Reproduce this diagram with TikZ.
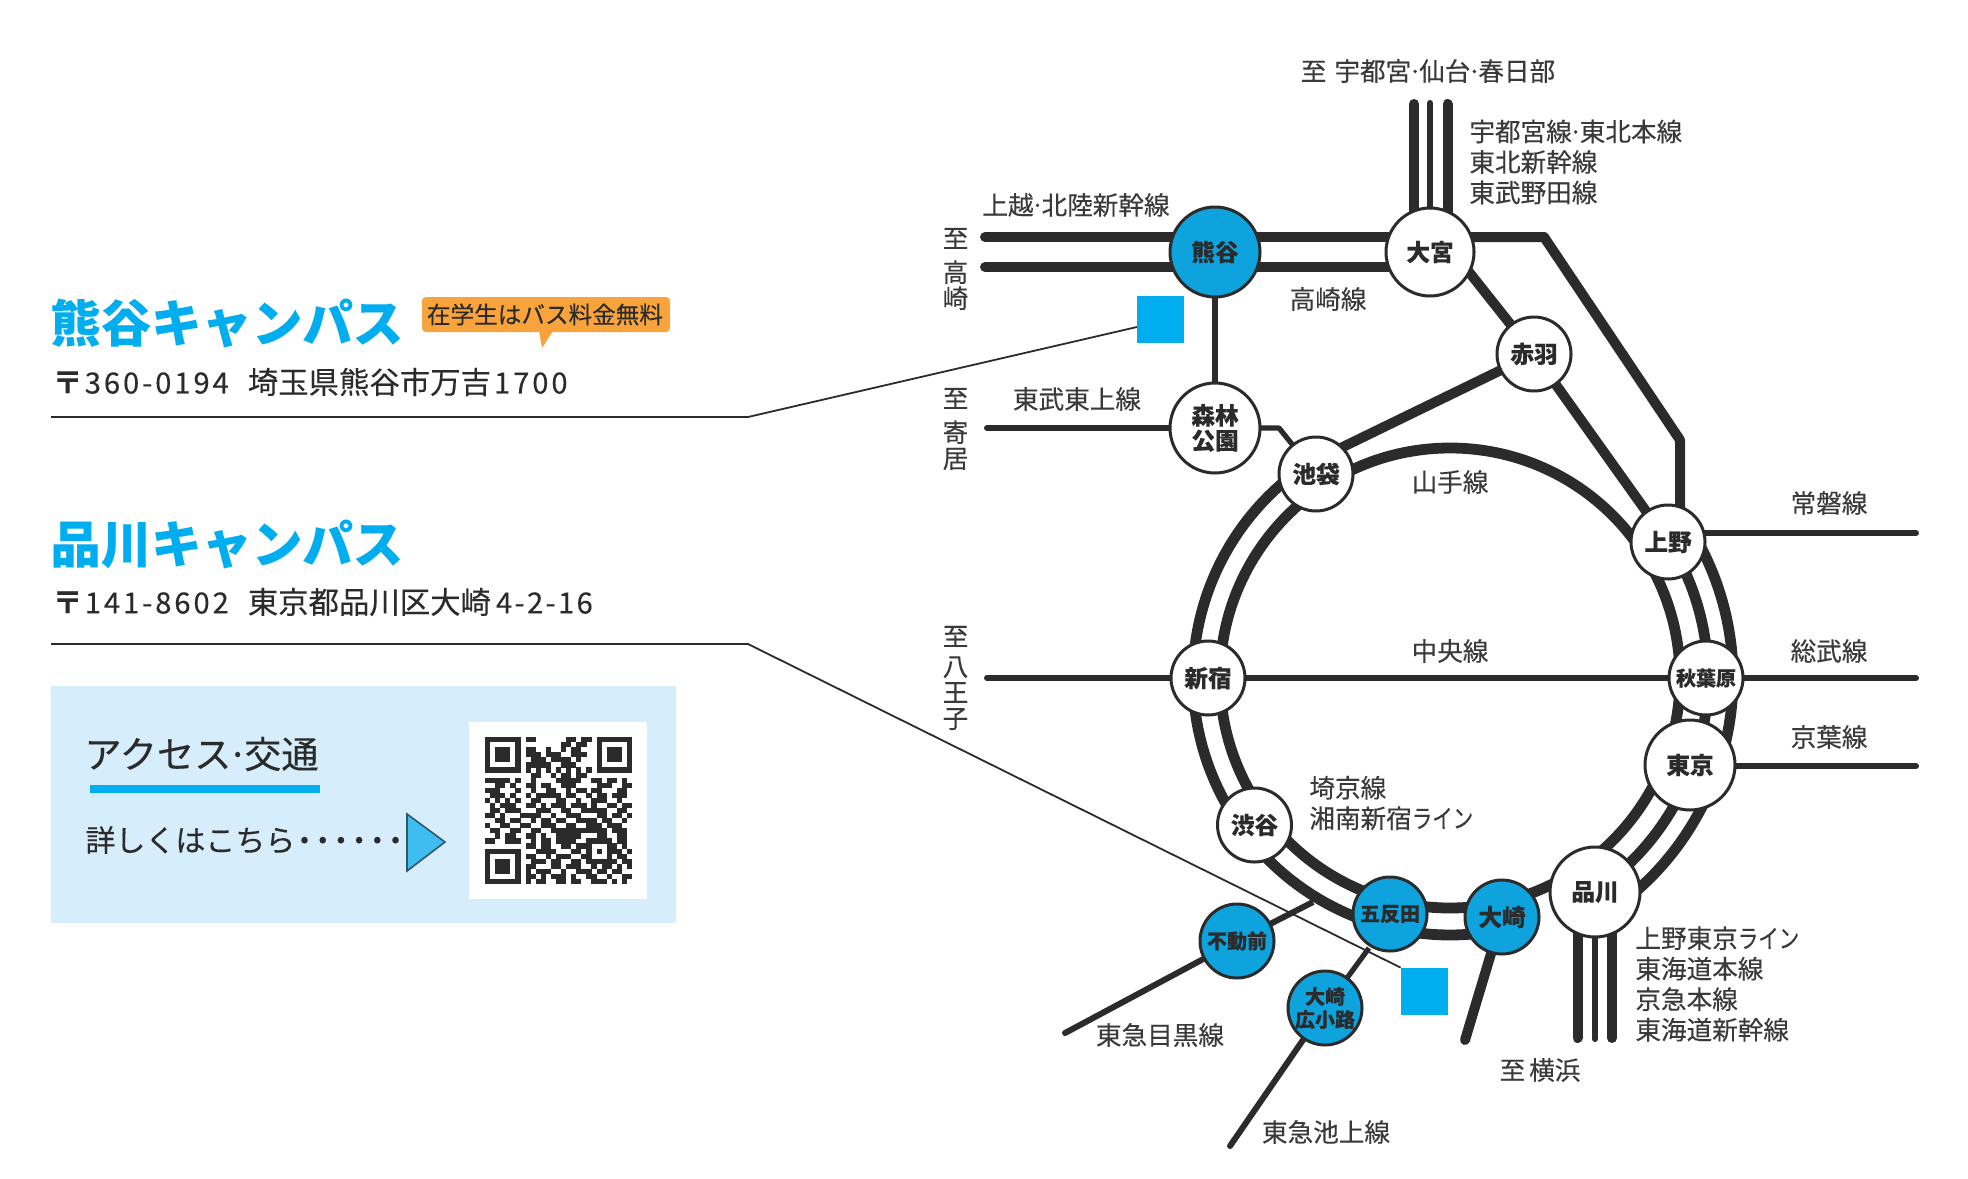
\documentclass[tikz,border=0pt]{standalone}
\usepackage{graphicx}
\usepackage{fontspec}
\setmainfont[FakeBold=0.25,BoldFeatures={FakeBold=0.15}]{Noto Sans CJK JP}
\usetikzlibrary{backgrounds}
\definecolor{ink}{HTML}{2B2B2B}
\definecolor{labelgrey}{HTML}{3A3A3A}
\definecolor{camp}{HTML}{00AEEF}
\definecolor{stationblue}{HTML}{0FA3DE}
\definecolor{panelblue}{HTML}{D6EEFB}
\definecolor{badge}{HTML}{F8A33C}
\definecolor{tri}{HTML}{3FBDF0}
\newcommand{\dt}{\kern-1.6pt·\kern-1.6pt}
\newcommand{\nar}[1]{\scalebox{0.8}[1]{#1}}
\newcount\qrc \newcount\qrr
\def\qrbit#1{\ifx#1.\let\qrnext\relax\else\ifx#11\fill[ink] ({485+5.07*\the\qrc},{737+5.07*\the\qrr}) rectangle ++(5.2,5.2);\fi\advance\qrc by1 \let\qrnext\qrbit\fi\qrnext}
\def\qrrow#1{\qrc=0 \qrbit#1.\advance\qrr by1 }
\tikzset{
  station/.style={circle,draw=ink,line width=1.5pt,fill=white,inner sep=0pt,minimum size=#1,align=center,text=ink,font=\fontsize{11.8}{12.5}\selectfont\bfseries},
  bluestation/.style={station=#1,fill=stationblue},
  smallfont/.style={font=\fontsize{10}{11}\selectfont\bfseries},
  lab/.style={inner sep=0pt,text=labelgrey,font=\fontsize{12.8}{15.25}\selectfont,align=left},
  vlab/.style={inner sep=0pt,text=labelgrey,font=\fontsize{12.8}{13}\selectfont,align=center},
  title/.style={inner sep=0pt,anchor=west,text=camp,font=\fontsize{25.2}{28}\selectfont\bfseries},
  addr/.style={inner sep=0pt,anchor=west,text=ink,font=\fontsize{15.2}{17}\selectfont},
  thicktrack/.style={draw=ink,line width=5pt,line cap=round,line join=round},
  thintrack/.style={draw=ink,line width=3pt,line cap=round,line join=round},
  callout/.style={draw=ink,line width=0.9pt},
  campus/.style={fill=camp,inner sep=0pt,minimum width=23.5pt,minimum height=23.5pt},
}
\begin{document}
\begin{tikzpicture}[x=0.5pt,y=-0.5pt]
\useasboundingbox (0,0) rectangle (1968,1178);
% ---- left column
\node[title] (t1) at (50,323) {熊谷キャンパス};
\node[title] (t2) at (50,544) {品川キャンパス};
\fill[badge,rounded corners=2pt] (422,297) rectangle (670,332);
\fill[badge] (539,331) -- (553,331) -- (542,348) -- cycle;
\node[inner sep=0pt,text=ink,font=\fontsize{11.8}{13}\selectfont] (badge) at (545,314.5) {在学生はバス料金無料};
\node[addr] (a1) at (52,382) {{\bfseries 〒}\hspace{1pt}{\fontsize{14.6}{17}\selectfont\addfontfeature{LetterSpace=10}360-0194}\hspace{9.5pt}埼玉県熊谷市万吉\hspace{1.5pt}{\fontsize{14.6}{17}\selectfont\addfontfeature{LetterSpace=10}1700}};
\node[addr] (a2) at (52,602) {{\bfseries 〒}\hspace{1pt}{\fontsize{14.6}{17}\selectfont\addfontfeature{LetterSpace=10}141-8602}\hspace{9.5pt}東京都品川区大崎\hspace{2.5pt}{\fontsize{14.6}{17}\selectfont\addfontfeature{LetterSpace=8}4-2-16}};
\fill[panelblue] (50.5,686) rectangle (676,923);
\fill[white] (469,722) rectangle (647,899);
\node[inner sep=0pt,anchor=west,text=ink,font=\fontsize{18.6}{20}\selectfont] (acc) at (84,754) {アクセス\kern-2pt·\kern-2pt交通};
\fill[camp] (90,785) rectangle (320,793);
\node[inner sep=0pt,anchor=west,text=ink,font=\fontsize{15}{17}\selectfont] (more) at (85,840) {詳しくはこちら\makebox[9.1pt]{\bfseries ·}\makebox[9.1pt]{\bfseries ·}\makebox[9.1pt]{\bfseries ·}\makebox[9.1pt]{\bfseries ·}\makebox[9.1pt]{\bfseries ·}\makebox[9.1pt]{\bfseries ·}};
\draw[fill=tri,draw=ink!70!tri,line width=0.8pt,line join=miter] (407,814) -- (445,842) -- (407,871) -- cycle;
% QR code
\qrrow{1111111 0 1100000011011 0 1111111}
\qrrow{1000001 0 0000000110110 0 1000001}
\qrrow{1011101 0 1100100101100 0 1011101}
\qrrow{1011101 0 1110111001110 0 1011101}
\qrrow{1011101 0 0111011110100 0 1011101}
\qrrow{1000001 0 1111100111000 0 1000001}
\qrrow{1111111 0 1010101010101 0 1111111}
\qrrow{0000000 0 0110010110110 0 0000000}
\qrrow{11111010 0100001111100 11011010}
\qrrow{00110100 1101100111000 01110011}
\qrrow{11100010 0100110010110 11000110}
\qrrow{01110100 1011111011001 01101110}
\qrrow{10101010 0110001100100 11100100}
\qrrow{01011100 1101011101110 10011011}
\qrrow{01101110 0011100110011 11100110}
\qrrow{11010001 1110010011100 01101101}
\qrrow{00110110 0101101100111 10110010}
\qrrow{10011001 1001110011001 11011100}
\qrrow{01100110 0110011111111 11101110}
\qrrow{00101100 1101001111100 01100110}
\qrrow{11001110 010110111100 11111 0110}
\qrrow{00000000 110110011011 10001 1010}
\qrrow{11111110 001111000110 10101 1101}
\qrrow{10000010 110010111001 10001 0110}
\qrrow{10111010 011101100110 11111 1011}
\qrrow{10111010 110001101110010110101}
\qrrow{10111010 101110010011101101100}
\qrrow{10000010 110101110100110010011}
\qrrow{11111110 101100110110011101010}
% ---- stations
\node[bluestation=45pt] (kumagaya) at (1215,252) {熊谷};
\node[station=44pt] (omiya) at (1430,252) {大宮};
\node[station=37pt] (akabane) at (1534,354) {赤羽};
\node[station=45pt] (shinrin) at (1215,428) {森林\\公園};
\node[station=37pt] (ikebukuro) at (1316,474) {池袋};
\node[station=37pt] (ueno) at (1668,542) {上野};
\node[station=37pt] (shinjuku) at (1208,678) {新宿};
\node[station=37pt,smallfont] (akiba) at (1706,678) {秋葉原};
\node[station=45pt] (tokyo) at (1690,765) {東京};
\node[station=37pt] (shibuya) at (1254.5,825) {渋谷};
\node[station=45pt] (shinagawa) at (1595,892) {品川};
\node[bluestation=37pt,smallfont] (gotanda) at (1390,914) {五反田};
\node[bluestation=37pt] (osaki) at (1502,917) {大崎};
\node[bluestation=37pt,smallfont] (fudomae) at (1237,941) {不動前};
\node[bluestation=37pt,smallfont,font=\fontsize{10}{11.5}\selectfont\bfseries] (hirokoji) at (1325,1008) {大崎\\広小路};
% campus squares
\node[campus] (sq1) at (1160.5,319) {};
\node[campus] (sq2) at (1424.5,991.5) {};
% free ends
\coordinate (takL1) at (985,237);
\coordinate (takL2) at (985,267);
\coordinate (u1) at (1414,104);
\coordinate (u2) at (1430,103);
\coordinate (u3) at (1447.5,104);
\coordinate (yorii) at (987,428);
\coordinate (hachi) at (987,678);
\coordinate (joban) at (1916,533);
\coordinate (sobu) at (1916,678);
\coordinate (keiyo) at (1916,766);
\coordinate (tan1) at (1577.5,1038);
\coordinate (tan2) at (1595,1039);
\coordinate (tan3) at (1612,1038);
\coordinate (yoko) at (1465,1040);
\coordinate (meguro) at (1065,1033);
\coordinate (meguroTop) at (1313,902);
\coordinate (ikegami) at (1230,1146);
\coordinate (ikegamiTop) at (1369,948);
\coordinate (c1a) at (51,417);
\coordinate (c1b) at (748,417);
\coordinate (c1c) at (1137,327);
\coordinate (c2a) at (51,644);
\coordinate (c2b) at (748,644);
% ---- tracks
\begin{pgfonlayer}{background}
\draw[thicktrack] (takL1) -- (takL1 -| omiya.center);
\draw[thicktrack] (takL2) -- (takL2 -| omiya.center);
\draw[thicktrack] (u1) -- (u1 |- omiya.center);
\draw[draw=ink,line width=3pt,line cap=round] (u2) -- (omiya.center);
\draw[thicktrack] (u3) -- (u3 |- omiya.center);
\draw[thicktrack] (omiya.center |- takL1) -- (1544,237) -- (1680,440) -- (1680,542);
\draw[thicktrack] (omiya.center |- takL2) -- (1465,267) -- (akabane.center);
\draw[thicktrack] (akabane.center) -- (ueno.center);
\draw[thicktrack] (akabane.center) -- (1316,460);
\draw[draw=ink,line width=2.6pt] (kumagaya.center) -- (shinrin.center);
\draw[draw=ink,line width=2.6pt,line join=round] (shinrin.center) -- (1279,428) -- (ikebukuro.center);
\draw[thintrack] (yorii) -- (shinrin.center);
\draw[thintrack] (hachi) -- (sobu);
\draw[thintrack] (ueno.center |- joban) -- (joban);
\draw[thintrack] (tokyo.center |- keiyo) -- (keiyo);
% rings
\draw[draw=ink,line width=5.4pt] (1450,678) circle[radius=230];
\draw[draw=ink,line width=5.4pt,domain=78:237,samples=80,variable=\t] plot ({1450+257*cos(\t)},{678+257*sin(\t)});
\draw[draw=ink,line width=5.4pt,domain=-32:56,samples=60,variable=\t] plot ({1450+258*cos(\t)},{678+258*sin(\t)});
\draw[draw=ink,line width=5.4pt,domain=-30:54,samples=60,variable=\t] plot ({1450+283*cos(\t)},{678+283*sin(\t)});
% branches
\draw[draw=ink,line width=3pt] (meguroTop) -- (fudomae.center);
\draw[thintrack] (fudomae.center) -- (meguro);
\draw[draw=ink,line width=2.6pt] (ikegamiTop) -- (hirokoji.center);
\draw[draw=ink,line width=3pt,line cap=round] (hirokoji.center) -- (ikegami);
\draw[thicktrack] (osaki.center) -- (yoko);
\draw[thicktrack] (shinagawa.center -| tan1) -- (tan1);
\draw[draw=ink,line width=3pt,line cap=round] (shinagawa.center) -- (tan2);
\draw[thicktrack] (shinagawa.center -| tan3) -- (tan3);
% leader lines
\draw[callout] (c1a) -- (c1b) -- (c1c);
\draw[callout] (c2a) -- (c2b) -- (sq2.north west);
\end{pgfonlayer}
% ---- labels
\node[lab] (l1) at (1428,71) {至\hspace{4pt}宇都宮\dt 仙台\dt 春日部};
\node[lab,anchor=west] (l2) at (1469,162) {宇都宮線\dt 東北本線\\東北新幹線\\東武野田線};
\node[lab] (l3) at (1076,205) {上越\dt 北陸新幹線};
\node[vlab] (l4) at (955.5,269) {至\\[4pt]高\\崎};
\node[lab] (l5) at (1328,299) {高崎線};
\node[lab] (l6) at (1077,399) {東武東上線};
\node[vlab] (l7) at (955.5,429) {至\\[4pt]寄\\居};
\node[vlab] (l8) at (955.5,678) {至\\[2pt]八\\王\\子};
\node[lab] (l9) at (1450,482) {山手線};
\node[lab] (l10) at (1450,651) {中央線};
\node[lab] (l11) at (1829,503) {常磐線};
\node[lab] (l12) at (1829,651) {総武線};
\node[lab] (l13) at (1829,737) {京葉線};
\node[lab,anchor=west] (l14) at (1309,803) {埼京線\\湘南新宿\nar{ライン}};
\node[lab] (l15) at (1160,1035) {東急目黒線};
\node[lab] (l16) at (1326,1132) {東急池上線};
\node[lab] (l17) at (1540,1070) {至\hspace{2pt}横浜};
\node[lab,anchor=west] (l18) at (1635,984) {上野東京\nar{ライン}\\東海道本線\\京急本線\\東海道新幹線};
\end{tikzpicture}
\end{document}
